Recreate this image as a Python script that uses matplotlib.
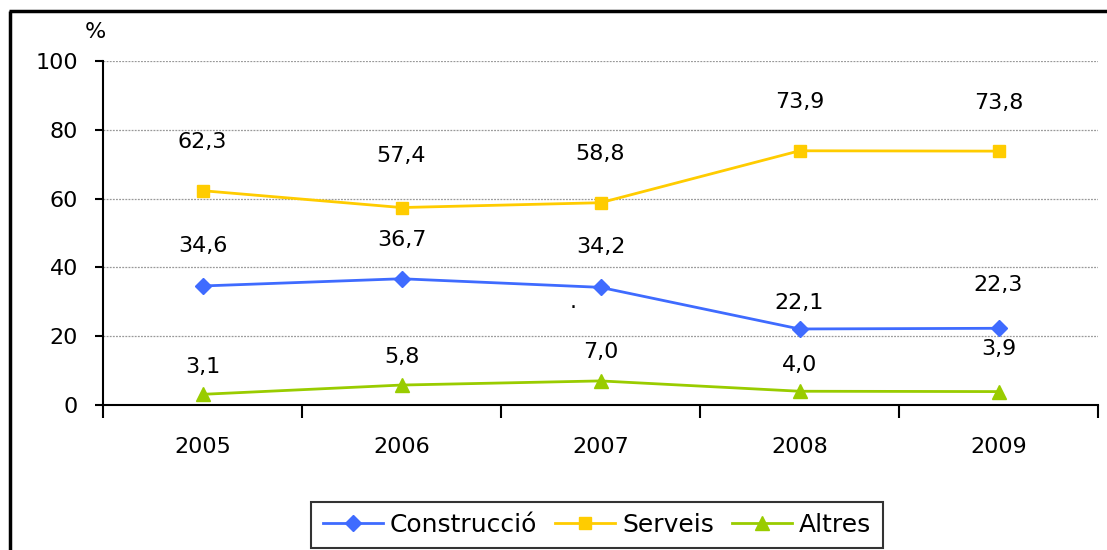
import matplotlib
matplotlib.use("Agg")
import matplotlib.pyplot as plt
from matplotlib.lines import Line2D

years = ["2005", "2006", "2007", "2008", "2009"]
construccio = [34.6, 36.7, 34.2, 22.1, 22.3]
serveis = [62.3, 57.4, 58.8, 73.9, 73.8]
altres = [3.1, 5.8, 7.0, 4.0, 3.9]
series_names = ["Construcció", "Serveis", "Altres"]
y_ticks = [0, 20, 40, 60, 80, 100]

# label offsets (points above the marker)
off_c = [29, 28, 29, 19, 31]
off_s = [35, 37, 35, 35, 35]
off_a = [20, 20, 21, 19, 31]

colors = ["#3F6BFF", "#FFCC00", "#99CC00"]
markers = ["D", "s", "^"]
msizes = [8, 9, 10]

plt.rcParams['font.family'] = ['DejaVu Sans']
fig = plt.figure(figsize=(11.07, 5.5), dpi=100)
ax = fig.add_axes([103/1107, 1-405/550, (1098-103)/1107, (405-61)/550])

x = list(range(len(years)))
lines = []
for vals, col, mk, ms, name, offs in zip([construccio, serveis, altres], colors, markers, msizes,
                                         series_names, [off_c, off_s, off_a]):
    ln, = ax.plot(x, vals, color=col, marker=mk, markersize=ms, linewidth=2, label=name,
                  markeredgecolor=col)
    lines.append(ln)
    for xi, v, o in zip(x, vals, offs):
        ax.annotate(f"{v:.1f}".replace(".", ","), (xi, v), xytext=(0, o), textcoords="offset points",
                    ha="center", va="center", fontsize=16, color="black")

ax.set_xlim(-0.5, 4.5)
ax.set_ylim(0, 100)
ax.set_yticks(y_ticks)
ax.set_yticklabels([str(t) for t in y_ticks], fontsize=16)
ax.set_xticks(x)
ax.set_xticklabels(years, fontsize=16)
ax.set_xticks([i - 0.5 for i in range(len(years) + 1)], minor=True)
ax.tick_params(axis="x", which="major", length=0, pad=23)
ax.tick_params(axis="x", which="minor", length=9, width=1.5, direction="out")
ax.tick_params(axis="y", which="major", length=6, width=1.5, direction="out", pad=12)
for t in y_ticks[1:]:
    ax.axhline(t, color="#999999", linestyle=(0, (1.5, 1)), linewidth=0.9, zorder=0)
for s in ["top", "right"]:
    ax.spines[s].set_visible(False)
ax.spines["left"].set_linewidth(1.5)
ax.spines["bottom"].set_linewidth(1.5)

ax.text(2 - 0.14, 27, ".", fontsize=16, ha="center", va="bottom")
fig.text(95/1107, 1-32/550, "%", fontsize=16, ha="center", va="center")

leg = fig.legend(handles=lines, loc="center", bbox_to_anchor=(597/1107, 1-525/550), ncol=3,
                 frameon=True, fancybox=False, edgecolor="black", fontsize=18,
                 handlelength=2.4, columnspacing=0.7, handletextpad=0.3, borderpad=0.45)
leg.get_frame().set_linewidth(1.5)

fig.add_artist(Line2D([10/1107, 10/1107], [0, 1-11/550], transform=fig.transFigure,
                      color="black", linewidth=2.5, solid_capstyle="butt"))
fig.add_artist(Line2D([9/1107, 1.02], [1-11/550, 1-11/550], transform=fig.transFigure,
                      color="black", linewidth=2.5, solid_capstyle="butt"))

fig.savefig("out.png", dpi=100)
